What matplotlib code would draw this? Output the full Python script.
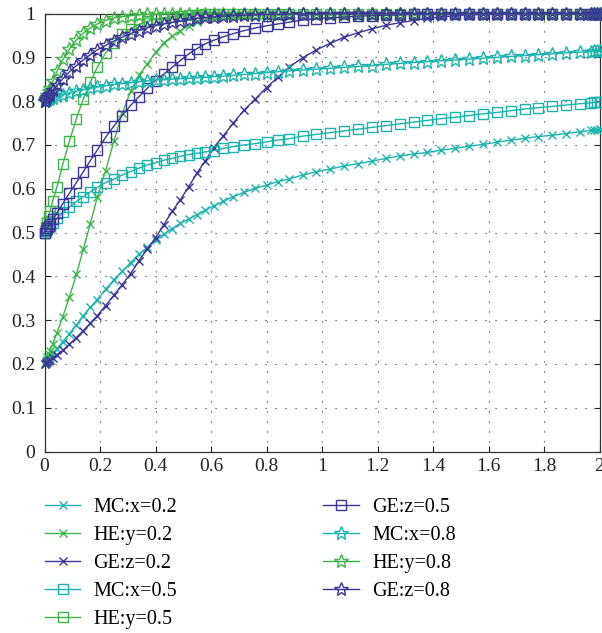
import matplotlib
matplotlib.use('Agg')
import matplotlib.pyplot as plt

plt.rcParams['font.family'] = ['Liberation Serif', 'DejaVu Serif']

# ---- data ----
t = [0, 0.005, 0.01, 0.015, 0.02, 0.03, 0.045, 0.066, 0.09, 0.115,
     0.14, 0.165, 0.19, 0.22, 0.25, 0.28, 0.31, 0.34, 0.37, 0.40,
     0.43, 0.46, 0.49, 0.52, 0.55, 0.58, 0.61, 0.645, 0.68, 0.72,
     0.76, 0.80, 0.84, 0.88, 0.93, 0.98, 1.03, 1.08, 1.13, 1.18,
     1.23, 1.28, 1.33, 1.38, 1.43, 1.48, 1.53, 1.58, 1.63, 1.68,
     1.73, 1.78, 1.83, 1.88, 1.93, 1.97, 1.98, 1.99, 2.0]

mc_x02 = [0.200, 0.204, 0.208, 0.212, 0.216, 0.224, 0.235, 0.251, 0.269, 0.289,
          0.310, 0.329, 0.347, 0.370, 0.392, 0.412, 0.431, 0.450, 0.466, 0.482,
          0.496, 0.509, 0.521, 0.531, 0.541, 0.551, 0.561, 0.571, 0.582, 0.592,
          0.601, 0.608, 0.616, 0.622, 0.631, 0.639, 0.645, 0.652, 0.657, 0.663,
          0.669, 0.675, 0.679, 0.683, 0.688, 0.692, 0.697, 0.701, 0.706, 0.711,
          0.715, 0.719, 0.722, 0.726, 0.730, 0.733, 0.734, 0.735, 0.736]

he_y02 = [0.200, 0.207, 0.215, 0.222, 0.230, 0.246, 0.271, 0.308, 0.353, 0.405,
          0.462, 0.520, 0.580, 0.641, 0.708, 0.772, 0.822, 0.859, 0.884, 0.911,
          0.933, 0.948, 0.961, 0.972, 0.981, 0.987, 0.991, 0.994, 0.996, 0.997,
          0.998, 0.999, 0.999, 1.0, 1.0, 1.0, 1.0, 1.0, 1.0, 1.0,
          1.0, 1.0, 1.0, 1.0, 1.0, 1.0, 1.0, 1.0, 1.0, 1.0,
          1.0, 1.0, 1.0, 1.0, 1.0, 1.0, 1.0, 1.0, 1.0]

ge_z02 = [0.200, 0.202, 0.205, 0.207, 0.209, 0.214, 0.221, 0.231, 0.245, 0.260,
          0.276, 0.293, 0.310, 0.333, 0.357, 0.381, 0.406, 0.435, 0.462, 0.488,
          0.518, 0.548, 0.575, 0.605, 0.636, 0.664, 0.694, 0.721, 0.750, 0.780,
          0.805, 0.831, 0.854, 0.877, 0.899, 0.917, 0.932, 0.946, 0.956, 0.965,
          0.973, 0.979, 0.984, 0.989, 0.992, 0.995, 0.997, 0.998, 0.999, 0.999,
          1.0, 1.0, 1.0, 1.0, 1.0, 1.0, 1.0, 1.0, 1.0]

mc_x05 = [0.500, 0.504, 0.508, 0.512, 0.515, 0.522, 0.533, 0.546, 0.558, 0.571,
          0.582, 0.593, 0.603, 0.614, 0.622, 0.631, 0.639, 0.647, 0.654, 0.659,
          0.665, 0.669, 0.674, 0.678, 0.681, 0.684, 0.687, 0.692, 0.696, 0.700,
          0.703, 0.707, 0.711, 0.714, 0.720, 0.724, 0.728, 0.732, 0.736, 0.740,
          0.744, 0.748, 0.752, 0.756, 0.760, 0.763, 0.767, 0.771, 0.774, 0.778,
          0.782, 0.785, 0.788, 0.791, 0.794, 0.796, 0.797, 0.797, 0.798]

he_y05 = [0.500, 0.513, 0.525, 0.538, 0.550, 0.573, 0.604, 0.656, 0.709, 0.760,
          0.805, 0.843, 0.877, 0.910, 0.932, 0.953, 0.965, 0.975, 0.982, 0.987,
          0.990, 0.993, 0.995, 0.996, 0.997, 0.998, 0.998, 0.999, 0.999, 1.0,
          1.0, 1.0, 1.0, 1.0, 1.0, 1.0, 1.0, 1.0, 1.0, 1.0,
          1.0, 1.0, 1.0, 1.0, 1.0, 1.0, 1.0, 1.0, 1.0, 1.0,
          1.0, 1.0, 1.0, 1.0, 1.0, 1.0, 1.0, 1.0, 1.0]

ge_z05 = [0.500, 0.505, 0.510, 0.515, 0.520, 0.530, 0.545, 0.566, 0.590, 0.614,
          0.639, 0.664, 0.688, 0.717, 0.743, 0.767, 0.790, 0.810, 0.829, 0.847,
          0.862, 0.877, 0.893, 0.908, 0.920, 0.931, 0.939, 0.947, 0.954, 0.961,
          0.967, 0.972, 0.976, 0.980, 0.985, 0.988, 0.990, 0.992, 0.994, 0.995,
          0.996, 0.997, 0.998, 0.998, 0.999, 0.999, 1.0, 1.0, 1.0, 1.0,
          1.0, 1.0, 1.0, 1.0, 1.0, 1.0, 1.0, 1.0, 1.0]

mc_x08 = [0.800, 0.802, 0.803, 0.804, 0.806, 0.808, 0.811, 0.815, 0.819, 0.823,
          0.826, 0.829, 0.832, 0.835, 0.838, 0.840, 0.842, 0.844, 0.846, 0.848,
          0.849, 0.850, 0.851, 0.852, 0.853, 0.854, 0.856, 0.857, 0.859, 0.861,
          0.863, 0.865, 0.867, 0.869, 0.871, 0.873, 0.875, 0.877, 0.879, 0.881,
          0.884, 0.886, 0.888, 0.890, 0.892, 0.894, 0.896, 0.898, 0.900, 0.902,
          0.904, 0.906, 0.908, 0.910, 0.912, 0.913, 0.914, 0.914, 0.915]

he_y08 = [0.800, 0.807, 0.815, 0.822, 0.829, 0.845, 0.868, 0.895, 0.919, 0.940,
          0.955, 0.967, 0.976, 0.984, 0.990, 0.993, 0.995, 0.997, 0.998, 0.998,
          0.999, 1.0, 1.0, 1.0, 1.0, 1.0, 1.0, 1.0, 1.0, 1.0,
          1.0, 1.0, 1.0, 1.0, 1.0, 1.0, 1.0, 1.0, 1.0, 1.0,
          1.0, 1.0, 1.0, 1.0, 1.0, 1.0, 1.0, 1.0, 1.0, 1.0,
          1.0, 1.0, 1.0, 1.0, 1.0, 1.0, 1.0, 1.0, 1.0]

ge_z08 = [0.800, 0.804, 0.809, 0.813, 0.817, 0.825, 0.836, 0.851, 0.867, 0.881,
          0.894, 0.906, 0.917, 0.927, 0.937, 0.946, 0.954, 0.961, 0.967, 0.972,
          0.976, 0.980, 0.983, 0.986, 0.989, 0.991, 0.992, 0.994, 0.995, 0.996,
          0.997, 0.998, 0.998, 0.999, 0.999, 1.0, 1.0, 1.0, 1.0, 1.0,
          1.0, 1.0, 1.0, 1.0, 1.0, 1.0, 1.0, 1.0, 1.0, 1.0,
          1.0, 1.0, 1.0, 1.0, 1.0, 1.0, 1.0, 1.0, 1.0]

labels = ['MC:x=0.2', 'HE:y=0.2', 'GE:z=0.2', 'MC:x=0.5', 'HE:y=0.5',
          'GE:z=0.5', 'MC:x=0.8', 'HE:y=0.8', 'GE:z=0.8']
series = [mc_x02, he_y02, ge_z02, mc_x05, he_y05, ge_z05, mc_x08, he_y08, ge_z08]

xticks = [0, 0.2, 0.4, 0.6, 0.8, 1, 1.2, 1.4, 1.6, 1.8, 2]
xticklabels = ['0', '0.2', '0.4', '0.6', '0.8', '1', '1.2', '1.4', '1.6', '1.8', '2']
yticks = [0, 0.1, 0.2, 0.3, 0.4, 0.5, 0.6, 0.7, 0.8, 0.9, 1]
yticklabels = ['0', '0.1', '0.2', '0.3', '0.4', '0.5', '0.6', '0.7', '0.8', '0.9', '1']

# ---- styling ----
C_MC = '#1ab4ad'
C_HE = '#3db54b'
C_GE = '#3b3598'
colors = [C_MC, C_HE, C_GE] * 3
markers = ['x'] * 3 + ['s'] * 3 + ['*'] * 3
msizes = [6] * 3 + [7] * 3 + [10.5] * 3

fig = plt.figure(figsize=(6.02, 6.33), dpi=100)
ax = fig.add_axes([44.5 / 602, 1 - 451.5 / 633, 555 / 602, 438 / 633])

handles = []
for y, lab, c, m, ms in zip(series, labels, colors, markers, msizes):
    h, = ax.plot(t, y, color=c, marker=m, ms=ms, mfc='none', mec=c, mew=1.0,
                 lw=1.0, label=lab, clip_on=False, zorder=3)
    handles.append(h)

ax.set_xlim(0, 2)
ax.set_ylim(0, 1)
ax.set_xticks(xticks)
ax.set_xticklabels(xticklabels)
ax.set_yticks(yticks)
ax.set_yticklabels(yticklabels)
ax.grid(True, linestyle=(0, (1, 8)), color='#333333', lw=0.8)
ax.tick_params(direction='in', top=True, right=True, length=4, width=0.8,
               labelsize=14, colors='#222222')
ax.tick_params(axis='x', pad=5)
ax.tick_params(axis='y', pad=6.5)
for s in ax.spines.values():
    s.set_color('#333333')
    s.set_linewidth(0.9)

fig.legend(handles, labels, ncol=2, loc='upper left',
           bbox_to_anchor=(45 / 602, 1 - 498 / 633), frameon=False,
           fontsize=14.5, handlelength=1.75, handletextpad=0.66,
           labelspacing=0.44, columnspacing=7.26, borderpad=0, borderaxespad=0)

fig.savefig('out.png', dpi=100)
